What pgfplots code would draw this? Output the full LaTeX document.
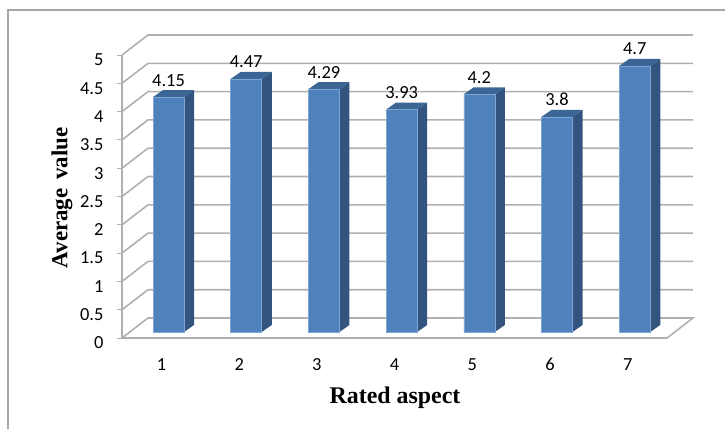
\documentclass[border=0pt]{standalone}
\usepackage{pgfplots}
\pgfplotsset{compat=1.18}
\usepackage{fontspec}
\setmainfont{Carlito}
\newfontfamily\titlefont{Liberation Serif}
\definecolor{barfront}{HTML}{4F81BD}
\definecolor{barside}{HTML}{33547F}
\definecolor{bartop}{HTML}{3A6595}
\definecolor{baredge}{HTML}{7FA5D3}
\definecolor{gridgray}{HTML}{B0B0B0}
\definecolor{framegray}{HTML}{A6A6A6}
\newcommand{\lab}{\fontsize{18.5}{20}\selectfont}

\begin{document}
\begin{tikzpicture}[x=1bp,y=1bp]
\path[use as bounding box] (0,0) rectangle (725,429);
\draw[framegray,line width=1.5bp] (8,0) -- (8,419) -- (725,419);

% front plane: ticks, labels, walls
\begin{axis}[
  name=front,
  at={(122bp,91bp)},anchor=south west,
  scale only axis,width=545bp,height=283bp,
  xmin=0.4916,xmax=7.506,ymin=0,ymax=5,
  clip=false,
  axis lines=left,
  axis line style={-,gridgray,line width=1.5bp},
  tick align=outside,
  xtick={1,2,3,4,5,6,7},
  xticklabels={1,2,3,4,5,6,7},
  ytick={0,0.5,1,1.5,2,2.5,3,3.5,4,4.5,5},
  yticklabels={0,0.5,1,1.5,2,2.5,3,3.5,4,4.5,5},
  x tick style={draw=none},
  y tick style={gridgray,line width=1bp},
  major tick length=5bp,
  unbounded coords=jump,
  tick label style={font=\lab},
  xticklabel style={yshift=-12bp},
  yticklabel style={yshift=-5bp,xshift=-10bp},
  xlabel={Rated aspect},
  ylabel={Average\hspace{3bp} value},
  every axis x label/.style={at={(axis description cs:0.5009,-0.212)},anchor=center,font=\titlefont\bfseries\fontsize{24}{26}\selectfont},
  every axis y label/.style={at={(axis description cs:-0.11,0.495)},anchor=center,rotate=90,font=\titlefont\bfseries\fontsize{23}{25}\selectfont},
]
\addplot[gridgray,line width=1.6bp] coordinates {
  (0.4916,0) (0.826,0.353) (7.84,0.353) (7.506,0) (nan,nan)
  (0.4916,0.5) (0.826,0.853) (7.84,0.853) (nan,nan)
  (0.4916,1) (0.826,1.353) (7.84,1.353) (nan,nan)
  (0.4916,1.5) (0.826,1.853) (7.84,1.853) (nan,nan)
  (0.4916,2) (0.826,2.353) (7.84,2.353) (nan,nan)
  (0.4916,2.5) (0.826,2.853) (7.84,2.853) (nan,nan)
  (0.4916,3) (0.826,3.353) (7.84,3.353) (nan,nan)
  (0.4916,3.5) (0.826,3.853) (7.84,3.853) (nan,nan)
  (0.4916,4) (0.826,4.353) (7.84,4.353) (nan,nan)
  (0.4916,4.5) (0.826,4.853) (7.84,4.853) (nan,nan)
  (0.4916,5) (0.826,5.353) (7.84,5.353)
};
\end{axis}

% bars, in their own plane a little behind the front edge
\begin{axis}[
  at={(129bp,97bp)},anchor=south west,
  scale only axis,width=545bp,height=283bp,
  xmin=0.4916,xmax=7.506,ymin=0,ymax=5,
  clip=false,hide axis,
]
% side faces
\addplot[fill=barside,draw=none] coordinates {(1.2,0) (1.329,0.124) (1.329,4.274) (1.2,4.15)} -- cycle;
\addplot[fill=barside,draw=none] coordinates {(2.2,0) (2.329,0.124) (2.329,4.594) (2.2,4.47)} -- cycle;
\addplot[fill=barside,draw=none] coordinates {(3.2,0) (3.329,0.124) (3.329,4.414) (3.2,4.29)} -- cycle;
\addplot[fill=barside,draw=none] coordinates {(4.2,0) (4.329,0.124) (4.329,4.054) (4.2,3.93)} -- cycle;
\addplot[fill=barside,draw=none] coordinates {(5.2,0) (5.329,0.124) (5.329,4.324) (5.2,4.2)} -- cycle;
\addplot[fill=barside,draw=none] coordinates {(6.2,0) (6.329,0.124) (6.329,3.924) (6.2,3.8)} -- cycle;
\addplot[fill=barside,draw=none] coordinates {(7.2,0) (7.329,0.124) (7.329,4.824) (7.2,4.7)} -- cycle;
% top faces
\addplot[fill=bartop,draw=none] coordinates {(0.8,4.15) (0.929,4.274) (1.329,4.274) (1.2,4.15)} -- cycle;
\addplot[fill=bartop,draw=none] coordinates {(1.8,4.47) (1.929,4.594) (2.329,4.594) (2.2,4.47)} -- cycle;
\addplot[fill=bartop,draw=none] coordinates {(2.8,4.29) (2.929,4.414) (3.329,4.414) (3.2,4.29)} -- cycle;
\addplot[fill=bartop,draw=none] coordinates {(3.8,3.93) (3.929,4.054) (4.329,4.054) (4.2,3.93)} -- cycle;
\addplot[fill=bartop,draw=none] coordinates {(4.8,4.2) (4.929,4.324) (5.329,4.324) (5.2,4.2)} -- cycle;
\addplot[fill=bartop,draw=none] coordinates {(5.8,3.8) (5.929,3.924) (6.329,3.924) (6.2,3.8)} -- cycle;
\addplot[fill=bartop,draw=none] coordinates {(6.8,4.7) (6.929,4.824) (7.329,4.824) (7.2,4.7)} -- cycle;
% front faces and value labels
\addplot[ybar,bar width=31bp,bar shift=0pt,fill=barfront,draw=baredge,line width=0.5bp] coordinates {
  (1,4.15) (2,4.47) (3,4.29) (4,3.93) (5,4.2) (6,3.8) (7,4.7)};
\addplot[draw=none,mark=none,
  nodes near coords,point meta=explicit symbolic,
  every node near coord/.append style={font=\lab,anchor=base,yshift=11bp}] coordinates {
  (1,4.15) [4.15] (2,4.47) [4.47] (3,4.29) [4.29] (4,3.93) [3.93] (5,4.2) [4.2] (6,3.8) [3.8] (7,4.7) [4.7]};
\end{axis}
\end{tikzpicture}
\end{document}
